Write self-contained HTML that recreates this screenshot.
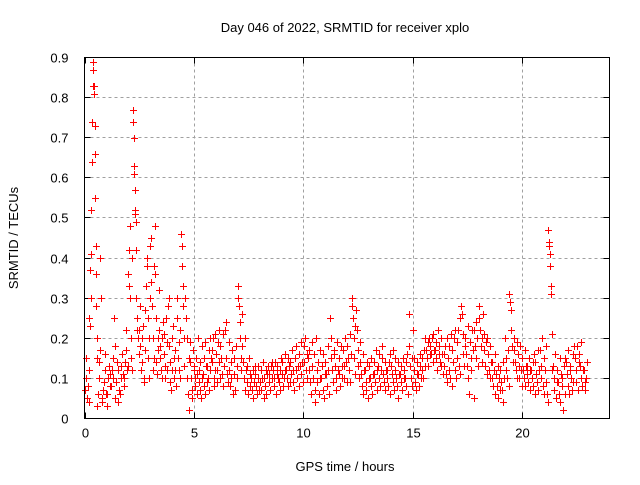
<!DOCTYPE html>
<html><head><meta charset="utf-8"><style>
body{margin:0;background:#fff}
svg text{font-family:"Liberation Sans",sans-serif;font-size:13px;fill:#000}
</style></head><body>
<svg id="chart" width="640" height="480" viewBox="0 0 640 480" xmlns="http://www.w3.org/2000/svg">
<rect width="640" height="480" fill="#fff"/>
<text x="345" y="32" text-anchor="middle">Day 046 of 2022, SRMTID for receiver xplo</text>
<text transform="translate(18,238) rotate(-90)" text-anchor="middle">SRMTID / TECUs</text>
<text x="345" y="471" text-anchor="middle">GPS time / hours</text>
<g id="grid"></g>
<g id="axes"></g>
<g id="points"></g>
<rect x="84.5" y="57.5" width="525" height="361" fill="none" stroke="#000" stroke-width="1"/>
</svg>
<script>
const xTicks=[0,5,10,15,20];
const yTicks=[0,0.1,0.2,0.3,0.4,0.5,0.6,0.7,0.8,0.9];
const yTickLabels=["0","0.1","0.2","0.3","0.4","0.5","0.6","0.7","0.8","0.9"];
const binStart=0, binHours=0.2;
const tecRows=[
[.07,.1,.15,.05,.08,.25],
[.04,.12,.23,.37,.41,.3,.52,.64,.74,.83,.89],
[.87,.83,.81,.73,.66,.55,.43,.36,.28,.2,.15,.03],
[.06,.1,.14,.17,.4,.3,.05],
[.04,.07,.09,.12,.16,.06],
[.03,.06,.1,.13,.08,.11],
[.08,.12,.15,.1,.25,.18],
[.05,.09,.14,.12,.04,.07],
[.06,.1,.13,.16,.11,.08],
[.1,.14,.17,.22,.12,.13],
[.36,.33,.42,.48,.3,.2,.15,.12,.4],
[.77,.74,.7,.63,.61,.57,.52,.51,.49,.42,.3,.22],
[.25,.2,.16,.22,.28,.18,.12],
[.14,.2,.23,.1,.09,.17,.27],
[.33,.4,.38,.25,.15,.1,.2,.3],
[.43,.45,.34,.28,.2,.12,.15,.38],
[.48,.36,.25,.14,.11,.2,.17,.32],
[.22,.18,.15,.12,.2,.1,.24],
[.21,.16,.13,.1,.25,.19,.12],
[.28,.3,.18,.14,.09,.07,.12],
[.2,.23,.15,.1,.12,.17,.08],
[.25,.3,.15,.12,.19,.1,.22],
[.46,.43,.38,.33,.28,.2,.13,.3],
[.3,.25,.2,.1,.06,.02,.15],
[.19,.14,.1,.07,.05,.17,.12],
[.13,.1,.08,.15,.11,.06,.2],
[.12,.09,.07,.14,.05,.18,.1],
[.11,.15,.08,.06,.19,.13,.09],
[.13,.1,.17,.07,.2,.12,.15],
[.14,.17,.2,.1,.08,.12,.21],
[.16,.12,.09,.19,.22,.14,.1],
[.18,.15,.11,.08,.21,.13],
[.22,.24,.15,.11,.09,.19],
[.12,.08,.1,.14,.17,.06],
[.15,.11,.07,.18,.13,.1],
[.33,.3,.28,.24,.2,.15,.12,.26],
[.18,.14,.1,.07,.2,.12],
[.13,.09,.06,.15,.11,.08],
[.1,.07,.05,.12,.09,.13],
[.11,.08,.06,.1,.13,.07],
[.09,.12,.07,.1,.14,.05],
[.1,.08,.12,.06,.11,.13],
[.11,.09,.07,.13,.1,.14],
[.12,.1,.08,.14,.06,.11],
[.13,.1,.09,.07,.12,.15],
[.11,.14,.08,.1,.12,.16],
[.12,.1,.15,.08,.13,.09],
[.14,.11,.17,.09,.12,.07],
[.15,.12,.18,.1,.13,.08],
[.16,.13,.19,.11,.14,.09],
[.18,.14,.2,.12,.1,.16],
[.15,.12,.17,.09,.06,.19],
[.13,.1,.16,.07,.04,.2],
[.12,.09,.14,.06,.17,.1],
[.1,.13,.07,.16,.05,.11],
[.14,.11,.08,.18,.12,.06],
[.25,.2,.15,.12,.09,.17],
[.16,.13,.1,.07,.19,.12],
[.15,.11,.08,.18,.13,.1],
[.17,.13,.1,.2,.14,.09],
[.18,.15,.12,.21,.09,.16],
[.3,.28,.25,.2,.15,.11,.23],
[.27,.22,.17,.13,.1,.19],
[.14,.11,.08,.16,.06,.12],
[.12,.09,.07,.14,.05,.1],
[.13,.1,.08,.15,.06,.11],
[.14,.11,.09,.17,.07,.12],
[.13,.1,.16,.08,.12,.18],
[.15,.11,.09,.14,.07,.12],
[.12,.1,.08,.14,.06,.16],
[.13,.11,.09,.17,.07,.15],
[.12,.1,.08,.14,.05,.11],
[.11,.09,.13,.07,.15,.1],
[.12,.1,.14,.08,.16,.06],
[.26,.18,.13,.1,.08,.15],
[.22,.15,.12,.09,.07,.11],
[.14,.11,.08,.13,.16,.1],
[.15,.12,.1,.17,.13,.2],
[.17,.15,.19,.13,.2,.16],
[.18,.16,.2,.14,.21,.17],
[.17,.15,.19,.12,.22,.16],
[.18,.14,.2,.13,.16,.11],
[.16,.13,.18,.11,.2,.09],
[.15,.12,.18,.1,.21,.08],
[.17,.14,.2,.12,.22,.1],
[.19,.15,.22,.13,.25,.11],
[.28,.26,.21,.16,.13,.18],
[.2,.16,.13,.1,.23,.06],
[.19,.15,.12,.22,.17,.05],
[.22,.18,.24,.15,.2,.13],
[.28,.25,.22,.18,.14,.2],
[.26,.21,.17,.13,.19,.11],
[.2,.16,.12,.18,.1,.14],
[.14,.1,.08,.12,.16,.06],
[.11,.08,.05,.13,.1,.07],
[.12,.09,.07,.14,.04,.1],
[.2,.15,.12,.1,.17,.08],
[.31,.29,.27,.22,.18,.14],
[.2,.17,.14,.12,.19,.1],
[.16,.13,.1,.18,.12,.08],
[.15,.12,.1,.17,.08,.13],
[.13,.11,.09,.15,.07,.12],
[.12,.1,.14,.08,.16,.06],
[.14,.11,.09,.17,.07,.12],
[.17,.13,.1,.2,.08,.06],
[.15,.12,.09,.18,.06,.04],
[.47,.44,.43,.41,.38,.33,.31,.21,.12],
[.13,.1,.07,.16,.05,.09],
[.12,.09,.06,.15,.04,.11],
[.1,.08,.02,.13,.06,.15],
[.14,.11,.08,.17,.06,.12],
[.13,.1,.07,.16,.09,.18],
[.15,.12,.09,.18,.07,.14],
[.16,.13,.1,.19,.08,.12],
[.12,.09,.07,.1,.14]
];
const X0=84.5,X1=609.5,Y0=418.5,Y1=57.5,XMAX=24,YMAX=0.9;
const xs=h=>X0+(X1-X0)*h/XMAX;
const ys=v=>Y0-(Y0-Y1)*v/YMAX;
const NS="http://www.w3.org/2000/svg";
const grid=document.getElementById('grid'),axes=document.getElementById('axes'),pts=document.getElementById('points');
function mk(tag,attrs,parent){const e=document.createElementNS(NS,tag);for(const k in attrs)e.setAttribute(k,attrs[k]);parent.appendChild(e);return e;}
xTicks.forEach(t=>{const x=Math.round(xs(t))+0.5;
 if(t>0){const g=mk('line',{x1:x,x2:x,y1:Y1,y2:Y0,stroke:'#a0a0a0','stroke-dasharray':'3,3'},grid);
 
 }
 mk('line',{x1:x,x2:x,y1:Y0,y2:Y0-6,stroke:'#000'},axes);
 mk('line',{x1:x,x2:x,y1:Y1,y2:Y1+6,stroke:'#000'},axes);
 const l=mk('text',{x:x,y:Y0+19,'text-anchor':'middle'},axes);l.textContent=t;
 
 
});
yTicks.forEach((t,i)=>{const y=Math.round(ys(t)-0.5)+0.5;
 if(t>0&&t<YMAX){const g=mk('line',{x1:X0,x2:X1,y1:y,y2:y,stroke:'#a0a0a0','stroke-dasharray':'3,3'},grid);
 
 }
 mk('line',{x1:X0,x2:X0+6,y1:y,y2:y,stroke:'#000'},axes);
 mk('line',{x1:X1,x2:X1-6,y1:y,y2:y,stroke:'#000'},axes);
 const l=mk('text',{x:X0-16,y:y+5,'text-anchor':'end'},axes);l.textContent=yTickLabels[i];
 
 
});
let d='';
tecRows.forEach((row,i)=>{row.forEach((v,j)=>{
 const h=binStart+binHours*(i+(j+0.5)/row.length*0.999);
 const x=Math.round(xs(h))+0.5,y=Math.round(ys(v))+0.5;
 d+=`M${x-3.5},${y}h7M${x},${y-3.5}v7`;
});});
const p=mk('path',{d:d,stroke:'#ff0000','stroke-width':1,fill:'none'},pts);


</script>
</body></html>
